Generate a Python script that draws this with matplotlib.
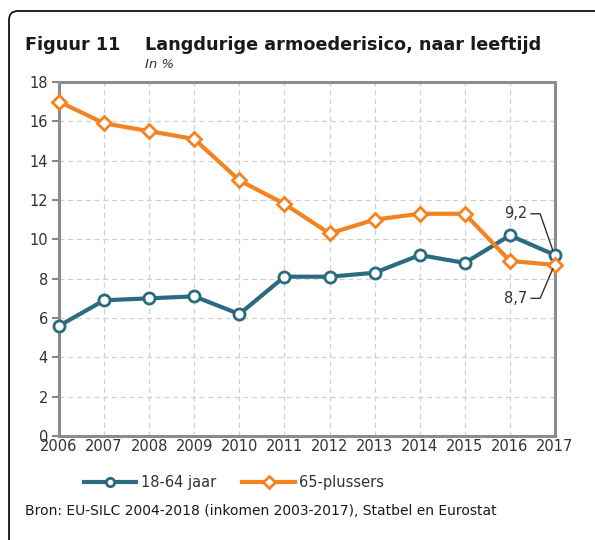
import matplotlib
matplotlib.use("Agg")
import matplotlib.pyplot as plt
from matplotlib.path import Path
from matplotlib.patches import PathPatch

# Data
years = [2006, 2007, 2008, 2009, 2010, 2011, 2012, 2013, 2014, 2015, 2016, 2017]
werkend = [5.6, 6.9, 7.0, 7.1, 6.2, 8.1, 8.1, 8.3, 9.2, 8.8, 10.2, 9.2]
ouderen = [17.0, 15.9, 15.5, 15.1, 13.0, 11.8, 10.3, 11.0, 11.3, 11.3, 8.9, 8.7]
yticks = [0, 2, 4, 6, 8, 10, 12, 14, 16, 18]

teal = "#2b6b7f"
orange = "#f58220"
txt = "#333333"

plt.rcParams["font.family"] = ["DejaVu Sans"]

W, H = 595, 540
fig = plt.figure(figsize=(W / 100, H / 100), dpi=100)
ax = fig.add_axes([59 / W, 1 - 436 / H, (555 - 59) / W, (436 - 82) / H])

# Frame around the figure: left and top edge with a small rounded corner
verts = [(9 / W, 0), (9 / W, 1 - 20 / H), (9 / W, 1 - 11 / H), (18 / W, 1 - 11 / H), (1, 1 - 11 / H)]
codes = [Path.MOVETO, Path.LINETO, Path.CURVE3, Path.CURVE3, Path.LINETO]
fig.add_artist(PathPatch(Path(verts, codes), transform=fig.transFigure, fill=False,
                         ec="black", lw=1.2))

ax.plot(years, werkend, color=teal, lw=3, marker="o", ms=8, mfc="white",
        mec=teal, mew=2, label="18-64 jaar", zorder=3, clip_on=False)
ax.plot(years, ouderen, color=orange, lw=3, marker="D", ms=7.5, mfc="white",
        mec=orange, mew=2, label="65-plussers", zorder=3, clip_on=False)

ax.set_xlim(2006, 2017)
ax.set_ylim(0, 18)
ax.set_xticks(years)
ax.set_yticks(yticks)
ax.tick_params(axis="both", colors="#888888", labelcolor=txt, labelsize=10.5)
ax.tick_params(axis="x", length=0, pad=2)
ax.tick_params(axis="y", length=5, width=1.5, pad=3)
for s in ax.spines.values():
    s.set_color("#8c8c8c")
    s.set_linewidth(2.2)
ax.grid(True, color="#d0d0d0", linestyle=(0, (4, 3)), lw=0.9)
ax.set_axisbelow(True)

# Labels for the last values, with leader lines
ax.text(2016.38, 11.3, "9,2", fontsize=10.5, color=txt, ha="right", va="center")
ax.plot([2016.47, 2016.67, 2016.95], [11.3, 11.3, 9.45], color="#333333", lw=1,
        clip_on=False, zorder=4)
ax.text(2016.38, 7.0, "8,7", fontsize=10.5, color=txt, ha="right", va="center")
ax.plot([2016.47, 2016.67, 2016.95], [7.0, 7.0, 8.5], color="#333333", lw=1,
        clip_on=False, zorder=4)

fig.text(25 / W, 1 - 45 / H, "Figuur 11", fontsize=12.7, fontweight="bold",
         color="#1a1a1a", va="center")
fig.text(145 / W, 1 - 45 / H, "Langdurige armoederisico, naar leeftijd", fontsize=12.7,
         fontweight="bold", color="#1a1a1a", va="center")
fig.text(145 / W, 1 - 64 / H, "In %", fontsize=9.5, style="italic",
         color=txt, va="center")

fig.legend(loc="center", bbox_to_anchor=(234 / W, 1 - 483 / H), ncol=2, frameon=False,
           fontsize=10.5, handlelength=3.6, columnspacing=1.8, labelcolor=txt,
           handletextpad=0.3, markerscale=0.75)

fig.text(25 / W, 1 - 511 / H, "Bron: EU-SILC 2004-2018 (inkomen 2003-2017), Statbel en Eurostat",
         fontsize=10, color="#1a1a1a", va="center")

fig.savefig("out.png", dpi=100)
